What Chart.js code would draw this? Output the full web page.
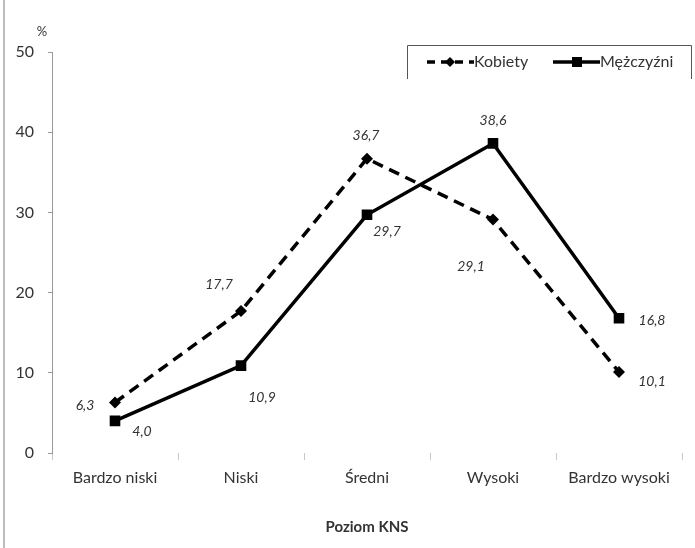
<!DOCTYPE html>
<html>
<head>
<meta charset="utf-8">
<script src="https://cdn.jsdelivr.net/npm/chart.js@4"></script>
<style>
  html, body { margin: 0; padding: 0; background: #fff; }
  #wrap { position: relative; width: 695px; height: 548px; }
  #wrap:before { content: ""; position: absolute; left: 3px; top: 0; bottom: 0; border-left: 2px solid #bdbdbd; }
  canvas { display: block; }
</style>
</head>
<body>
<div id="wrap"><canvas id="chart" width="695" height="548"></canvas></div>
<script>
// Data
var categories = ['Bardzo niski', 'Niski', 'Średni', 'Wysoki', 'Bardzo wysoki'];
var kobiety = [6.3, 17.7, 36.7, 29.1, 10.1];
var mezczyzni = [4.0, 10.9, 29.7, 38.6, 16.8];
var yTicks = [0, 10, 20, 30, 40, 50];

// label offsets (pixels from the point), per dataset
var kobietyLabelPos = [[-30, 3], [-22, -27], [-1, -23], [-22, 47], [33, 9]];
var mezczyzniLabelPos = [[27, 11], [21, 32], [20, 17], [0, -23], [33, 2]];

var textColor = '#333';
var fontFamily = 'Lato';

function fmt(v) {
    return v.toFixed(1).replace('.', ',');
}

// Data labels, legend box, % sign and axis title
var extras = {
    id: 'extras',
    afterDatasetsDraw: function (chart) {
        var ctx = chart.ctx;
        ctx.save();
        ctx.fillStyle = textColor;
        ctx.font = 'italic 14px ' + fontFamily;
        ctx.textAlign = 'center';
        ctx.textBaseline = 'middle';
        var offsets = [kobietyLabelPos, mezczyzniLabelPos];
        chart.data.datasets.forEach(function (ds, i) {
            chart.getDatasetMeta(i).data.forEach(function (pt, j) {
                ctx.fillText(fmt(ds.data[j]), pt.x + offsets[i][j][0], pt.y + offsets[i][j][1]);
            });
        });

        // % above y axis
        ctx.font = '13px ' + fontFamily;
        ctx.fillText('%', 42, 32);

        // x axis title
        ctx.font = 'bold 15px ' + fontFamily;
        ctx.fillText('Poziom KNS', (chart.chartArea.left + chart.chartArea.right) / 2, 527);

        // legend box
        ctx.strokeStyle = '#555';
        ctx.lineWidth = 1;
        ctx.beginPath();
        ctx.moveTo(407.5, 79);
        ctx.lineTo(407.5, 45.5);
        ctx.lineTo(691.5, 45.5);
        ctx.lineTo(691.5, 79);
        ctx.stroke();

        // legend items
        ctx.strokeStyle = '#000';
        ctx.fillStyle = '#000';
        ctx.lineWidth = 3.5;
        ctx.setLineDash([8, 6]);
        ctx.beginPath();
        ctx.moveTo(427, 62);
        ctx.lineTo(474, 62);
        ctx.stroke();
        ctx.setLineDash([]);
        ctx.beginPath();
        ctx.moveTo(450, 57);
        ctx.lineTo(455, 62);
        ctx.lineTo(450, 67);
        ctx.lineTo(445, 62);
        ctx.closePath();
        ctx.fill();

        ctx.beginPath();
        ctx.moveTo(553, 62);
        ctx.lineTo(600, 62);
        ctx.stroke();
        ctx.fillRect(572, 57, 10, 10);

        ctx.fillStyle = textColor;
        ctx.font = '16px ' + fontFamily;
        ctx.textAlign = 'left';
        ctx.fillText('Kobiety', 474, 62);
        ctx.fillText('Mężczyźni', 600, 62);
        ctx.restore();
    }
};

var ctx = document.getElementById('chart').getContext('2d');
new Chart(ctx, {
    type: 'line',
    data: {
        labels: categories,
        datasets: [{
            label: 'Kobiety',
            data: kobiety,
            borderColor: '#000',
            backgroundColor: '#000',
            borderWidth: 3.5,
            borderDash: [11, 7],
            pointStyle: 'rectRot',
            pointRadius: 6,
            pointBorderWidth: 0,
            tension: 0
        }, {
            label: 'Mężczyźni',
            data: mezczyzni,
            borderColor: '#000',
            backgroundColor: '#000',
            borderWidth: 3.5,
            pointStyle: 'rect',
            pointRadius: 7.5,
            pointBorderWidth: 0,
            tension: 0
        }]
    },
    options: {
        responsive: false,
        animation: false,
        layout: { padding: { top: 52, right: 13, left: 0, bottom: 0 } },
        plugins: {
            legend: { display: false },
            tooltip: { enabled: false }
        },
        scales: {
            x: {
                offset: true,
                border: { display: false },
                grid: {
                    drawOnChartArea: false,
                    offset: true,
                    color: '#c8c8c8',
                    tickLength: 7
                },
                ticks: {
                    color: textColor,
                    padding: 8,
                    maxRotation: 0,
                    font: { family: fontFamily, size: 16 }
                },
                afterFit: function (scale) { scale.height = 95; }
            },
            y: {
                min: 0,
                max: 50,
                afterBuildTicks: function (scale) {
                    scale.ticks = yTicks.map(function (v) { return { value: v }; });
                },
                border: { color: '#999', width: 1 },
                grid: {
                    drawOnChartArea: false,
                    color: '#999',
                    tickLength: 4
                },
                ticks: {
                    color: textColor,
                    padding: 14,
                    font: { family: fontFamily, size: 16 }
                },
                afterFit: function (scale) { scale.width = 52; }
            }
        }
    },
    plugins: [extras]
});
</script>
</body>
</html>
